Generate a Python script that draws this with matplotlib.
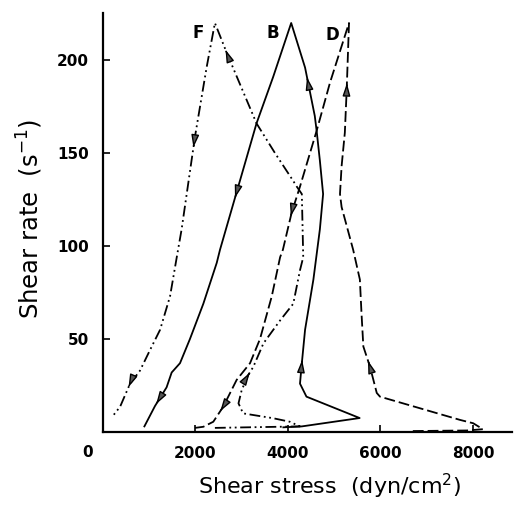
import matplotlib
matplotlib.use("Agg")
import matplotlib.pyplot as plt
import numpy as np

# Shear stress (dyn/cm2) vs shear rate (1/s) loops, in order of travel
B_STRESS = [3900, 4300, 5550, 4400, 4260, 4300, 4370, 4550, 4690, 4760, 4690,
            4620, 4580, 4370, 4070, 3680, 3320, 2890, 2530, 2460, 2170, 1880,
            1665, 1485, 1375, 1125, 895]
B_RATE = [2.5, 3.0, 7.5, 19, 26, 37, 55, 82, 109, 128, 146,
          162, 170, 196, 220, 191, 166, 129, 98, 91, 69, 50,
          37, 32, 24, 14, 3]

F_STRESS = [2420, 4260, 4040, 3680, 3030, 2930, 3000, 3140, 3250, 3470, 3830,
            4115, 4260, 4330, 4300, 4190, 4115, 3720, 3320, 2675, 2420, 2240,
            1990, 1700, 1595, 1450, 1235, 1015, 800, 585, 370, 225]
F_RATE = [2.2, 3.0, 5.5, 7.4, 10, 15.4, 22.6, 30.6, 35, 47.7, 60,
          69, 87, 94, 128, 132, 135, 150, 166, 204, 220, 196,
          159, 109, 94, 73, 55, 44, 33, 26, 13.6, 9]

D_STRESS = [6700, 7870, 8215, 8005, 7720, 5990, 5920, 5775, 5630, 5590, 5555,
            5410, 5160, 5125, 5160, 5230, 5270, 5320, 4910, 4620, 4260, 4080,
            3890, 3830, 3650, 3395, 3180, 2890, 2600, 2385, 2170, 1990]
D_RATE = [0.5, 0.8, 1.5, 4.7, 6.5, 19, 21, 35, 46, 64, 82,
          98, 121, 128, 143, 161, 184, 220, 188, 162, 132, 118,
          98, 94, 73, 50, 37, 28, 13.6, 5.5, 2.8, 2.2]

# (segment index, fraction along it) for each direction arrowhead
B_ARROWS = [(5, 0.1), (12, 0.8), (17, 0.1), (24, 0.9)]
F_ARROWS = [(7, 0.3), (19, 0.1), (22, 0.12), (29, 0.15)]
D_ARROWS = [(7, 0.3), (16, 0.1), (21, 0.1), (28, 0.3)]

CURVE_LABELS = ["F", "B", "D"]
LABEL_STRESS = [2050, 3680, 4950]
LABEL_RATE = [214.5, 214.5, 213.4]

X_TICKS = [2000, 4000, 6000, 8000]
Y_TICKS = [50, 100, 150, 200]


def _arrowhead(ax, xs, ys, i, t):
    """Small triangle on segment i, pointing in the direction of travel."""
    p0 = ax.transData.transform((xs[i], ys[i]))
    p1 = ax.transData.transform((xs[i + 1], ys[i + 1]))
    tip = p0 + t * (p1 - p0)
    unit = (p1 - p0) / np.hypot(*(p1 - p0))
    tail = tip - 2.0 * unit
    inv = ax.transData.inverted()
    ax.annotate(
        "",
        xy=tuple(inv.transform(tip)),
        xytext=tuple(inv.transform(tail)),
        arrowprops=dict(
            arrowstyle="-|>,head_length=0.75,head_width=0.23",
            lw=1.0,
            ec="black",
            fc="#555555",
            shrinkA=0,
            shrinkB=0,
        ),
        zorder=4,
    )


plt.rcParams["font.family"] = ["DejaVu Sans"]
plt.rcParams["mathtext.default"] = "regular"

fig = plt.figure(figsize=(5.15, 5.05), dpi=100)
ax = fig.add_axes([0.2, 0.1446, 0.794, 0.8294])
ax.set_xlim(0, 8843)
ax.set_ylim(0, 225.3)

ax.plot(B_STRESS, B_RATE, color="black", linewidth=1.3, zorder=3)
ax.plot(D_STRESS, D_RATE, color="black", linewidth=1.3, dashes=(6, 2.2),
        zorder=3)
ax.plot(F_STRESS, F_RATE, color="black", linewidth=1.3,
        dashes=(6, 2, 1, 2, 1, 2), zorder=3)

for xs, ys, marks in ((B_STRESS, B_RATE, B_ARROWS),
                      (F_STRESS, F_RATE, F_ARROWS),
                      (D_STRESS, D_RATE, D_ARROWS)):
    for i, t in marks:
        _arrowhead(ax, xs, ys, i, t)

for lab, x, y in zip(CURVE_LABELS, LABEL_STRESS, LABEL_RATE):
    ax.text(x, y, lab, ha="center", va="center", fontsize=12,
            fontweight="bold")

for side in ("top", "right"):
    ax.spines[side].set_visible(False)
for side in ("left", "bottom"):
    ax.spines[side].set_linewidth(1.6)

ax.set_xticks(X_TICKS)
ax.set_yticks(Y_TICKS)
ax.tick_params(direction="in", length=5, width=1.2, labelsize=11, pad=10)
for lbl in ax.get_xticklabels() + ax.get_yticklabels():
    lbl.set_fontweight("bold")
ax.text(-0.037, -0.05, "0", transform=ax.transAxes, ha="center",
        va="center", fontsize=11, fontweight="bold")

ax.set_xlabel(r"Shear stress  (dyn/cm$^{2}$)", fontsize=16)
ax.xaxis.set_label_coords(0.553, -0.131)
ax.xaxis.label.set_va("center")
ax.set_ylabel(r"Shear rate  (s$^{-1}$)", fontsize=17.5)
ax.yaxis.set_label_coords(-0.178, 0.51)
ax.yaxis.label.set_va("center")

fig.savefig("out.png", dpi=100, facecolor="white")
